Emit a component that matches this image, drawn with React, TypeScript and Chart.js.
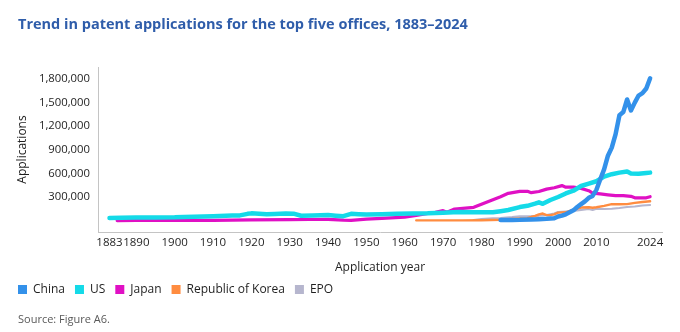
import React, { useEffect, useRef } from "react";
import { Chart, registerables } from "chart.js";

Chart.register(...registerables);

// Patent applications per office, by application year
const chinaYears = [1985, 1988, 1990, 1993, 1995, 1997, 1999, 2000, 2001, 2002, 2003, 2004, 2005, 2006, 2007, 2008, 2009, 2010, 2011, 2012, 2013, 2014, 2015, 2016, 2017, 2018, 2019, 2020, 2021, 2022, 2023, 2024];
const chinaApps = [8500, 9000, 10000, 15000, 18000, 22000, 30000, 52000, 63000, 80000, 105000, 130000, 173000, 210000, 245000, 290000, 314000, 391000, 526000, 652000, 825000, 928000, 1100000, 1340000, 1380000, 1540000, 1400000, 1500000, 1590000, 1620000, 1680000, 1810000];

const usYears = [1883, 1886, 1890, 1895, 1900, 1905, 1910, 1915, 1917, 1919, 1920, 1922, 1924, 1926, 1929, 1931, 1933, 1936, 1940, 1942, 1944, 1946, 1948, 1950, 1954, 1958, 1962, 1966, 1970, 1974, 1978, 1983, 1985, 1987, 1990, 1992, 1994, 1995, 1996, 1998, 2000, 2002, 2004, 2006, 2008, 2010, 2012, 2014, 2016, 2018, 2019, 2021, 2023, 2024];
const usApps = [33000, 35000, 38000, 40000, 42000, 50000, 56000, 64000, 66000, 86000, 92000, 86000, 82000, 85000, 90000, 88000, 62000, 66000, 70000, 62000, 56000, 86000, 80000, 76000, 80000, 86000, 90000, 92000, 100000, 108000, 105000, 106000, 120000, 135000, 172000, 188000, 215000, 232000, 214000, 262000, 300000, 345000, 380000, 440000, 470000, 500000, 560000, 590000, 610000, 625000, 600000, 595000, 605000, 610000];

const japanYears = [1885, 1890, 1900, 1910, 1920, 1930, 1935, 1940, 1944, 1946, 1950, 1954, 1960, 1963, 1966, 1968, 1970, 1971, 1973, 1978, 1981, 1985, 1987, 1990, 1992, 1993, 1995, 1997, 1999, 2001, 2002, 2004, 2006, 2008, 2009, 2011, 2013, 2015, 2017, 2019, 2020, 2022, 2023, 2024];
const japanApps = [500, 1000, 2000, 4000, 8000, 12000, 14000, 16000, 5000, 2000, 18000, 28000, 45000, 65000, 92000, 105000, 126000, 106000, 147000, 169000, 228000, 304000, 347000, 372000, 372000, 355000, 370000, 400000, 418000, 445000, 425000, 425000, 410000, 380000, 350000, 340000, 328000, 318000, 318000, 308000, 290000, 288000, 290000, 304000];

const koreaYears = [1963, 1970, 1975, 1980, 1985, 1988, 1990, 1992, 1994, 1995, 1996, 1997, 1998, 1999, 2000, 2002, 2004, 2006, 2008, 2009, 2010, 2012, 2014, 2016, 2018, 2020, 2022, 2024];
const koreaApps = [3000, 3000, 3000, 5000, 10000, 20000, 26000, 32000, 60000, 79000, 90000, 70000, 70000, 80000, 102000, 106000, 140000, 166000, 170000, 163000, 170000, 188000, 210000, 208000, 210000, 226000, 237000, 246000];

const epoYears = [1978, 1980, 1983, 1985, 1988, 1990, 1993, 1995, 1997, 1999, 2000, 2002, 2004, 2006, 2008, 2009, 2010, 2012, 2014, 2016, 2018, 2020, 2022, 2024];
const epoApps = [8000, 20000, 30000, 34000, 45000, 56000, 57000, 60000, 72000, 90000, 110000, 115000, 122000, 135000, 146000, 134000, 151000, 148000, 152000, 160000, 174000, 180000, 193000, 199000];

const xTickYears = [1883, 1890, 1900, 1910, 1920, 1930, 1940, 1950, 1960, 1970, 1980, 1990, 2000, 2010, 2024];
const yTickValues = [300000, 600000, 900000, 1200000, 1500000, 1800000];

const FONT = "'Open Sans', 'Noto Sans', sans-serif";
const TEXT = "#1f1f1f";
const AXIS = "#c4c4c4";

const toPoints = (years: number[], values: number[]) =>
  years.map((year, i) => ({ x: year, y: values[i] }));

const series = [
  { label: "China", years: chinaYears, values: chinaApps, color: "#3391EA", width: 4.5 },
  { label: "US", years: usYears, values: usApps, color: "#14DAE8", width: 4.5 },
  { label: "Japan", years: japanYears, values: japanApps, color: "#E010C4", width: 3.2 },
  { label: "Republic of Korea", years: koreaYears, values: koreaApps, color: "#FF8C40", width: 2.4 },
  { label: "EPO", years: epoYears, values: epoApps, color: "#B6B6CE", width: 2 },
];

export default function App() {
  const canvasRef = useRef<HTMLCanvasElement>(null);

  useEffect(() => {
    if (!canvasRef.current) return;
    const chart = new Chart(canvasRef.current, {
      type: "line",
      data: {
        datasets: series.map((s) => ({
          label: s.label,
          data: toPoints(s.years, s.values),
          borderColor: s.color,
          backgroundColor: s.color,
          borderWidth: s.width,
          pointRadius: 0,
          pointHoverRadius: 0,
          tension: 0,
          borderJoinStyle: "round" as const,
          borderCapStyle: "round" as const,
          fill: false,
        })),
      },
      options: {
        responsive: false,
        devicePixelRatio: 1,
        animation: false,
        parsing: false,
        normalized: true,
        layout: { padding: { left: 8, right: 18, top: 67, bottom: 26.5 } },
        font: { family: FONT },
        plugins: {
          tooltip: { enabled: false },
          title: { display: false },
          legend: {
            display: true,
            position: "bottom",
            align: "start",
            labels: {
              boxWidth: 9,
              boxHeight: 9,
              padding: 10,
              color: TEXT,
              font: { family: FONT, size: 12 },
              generateLabels: (c: Chart) =>
                c.data.datasets.map((ds: any, i: number) => ({
                  text: ds.label,
                  fillStyle: ds.borderColor,
                  strokeStyle: ds.borderColor,
                  lineWidth: 0,
                  hidden: false,
                  datasetIndex: i,
                  fontColor: TEXT,
                })),
            },
          },
        },
        scales: {
          x: {
            type: "linear",
            min: 1880,
            max: 2027.1,
            grid: { display: false, drawTicks: false },
            border: { display: true, color: AXIS, width: 1 },
            ticks: {
              autoSkip: false,
              maxRotation: 0,
              minRotation: 0,
              padding: 4,
              color: TEXT,
              font: { family: FONT, size: 11.5 },
              callback: (v: any) => String(v),
            },
            afterBuildTicks: (scale: any) => {
              scale.ticks = xTickYears.map((v) => ({ value: v }));
            },
            afterFit: (scale: any) => {
              scale.height = 41.5;
            },
            title: {
              display: true,
              text: "Application year",
              color: TEXT,
              font: { family: FONT, size: 12 },
              padding: { top: 0, bottom: -1.2 },
            },
          },
          y: {
            type: "linear",
            min: -145000,
            max: 1953000,
            grid: { display: false, drawTicks: false },
            border: { display: true, color: AXIS, width: 1 },
            ticks: {
              padding: 8,
              color: TEXT,
              font: { family: FONT, size: 11.3 },
              callback: (v: any) => Number(v).toLocaleString("en-US"),
            },
            afterBuildTicks: (scale: any) => {
              scale.ticks = yTickValues.map((v) => ({ value: v }));
            },
            afterFit: (scale: any) => {
              scale.width = 90;
            },
            title: {
              display: true,
              text: "Applications",
              color: TEXT,
              font: { family: FONT, size: 12 },
              padding: { top: 7.3, bottom: 0 },
            },
          },
        },
      },
    } as any);
    return () => chart.destroy();
  }, []);

  return (
    <div
      style={{
        position: "absolute",
        left: 0,
        top: 0,
        width: 680,
        height: 332,
        background: "#ffffff",
        fontFamily: FONT,
      }}
    >
      <canvas
        ref={canvasRef}
        width={680}
        height={332}
        style={{ position: "absolute", left: 0, top: 0, width: 680, height: 332 }}
      />
      <div
        style={{
          position: "absolute",
          left: 18,
          top: 13.5,
          fontSize: 14.5,
          fontWeight: 700,
          color: "#2F5DAA",
          whiteSpace: "nowrap",
        }}
      >
        Trend in patent applications for the top five offices, 1883–2024
      </div>
      <div
        style={{
          position: "absolute",
          left: 18,
          top: 311,
          fontSize: 11,
          color: "#595959",
          whiteSpace: "nowrap",
        }}
      >
        Source: Figure A6.
      </div>
    </div>
  );
}
